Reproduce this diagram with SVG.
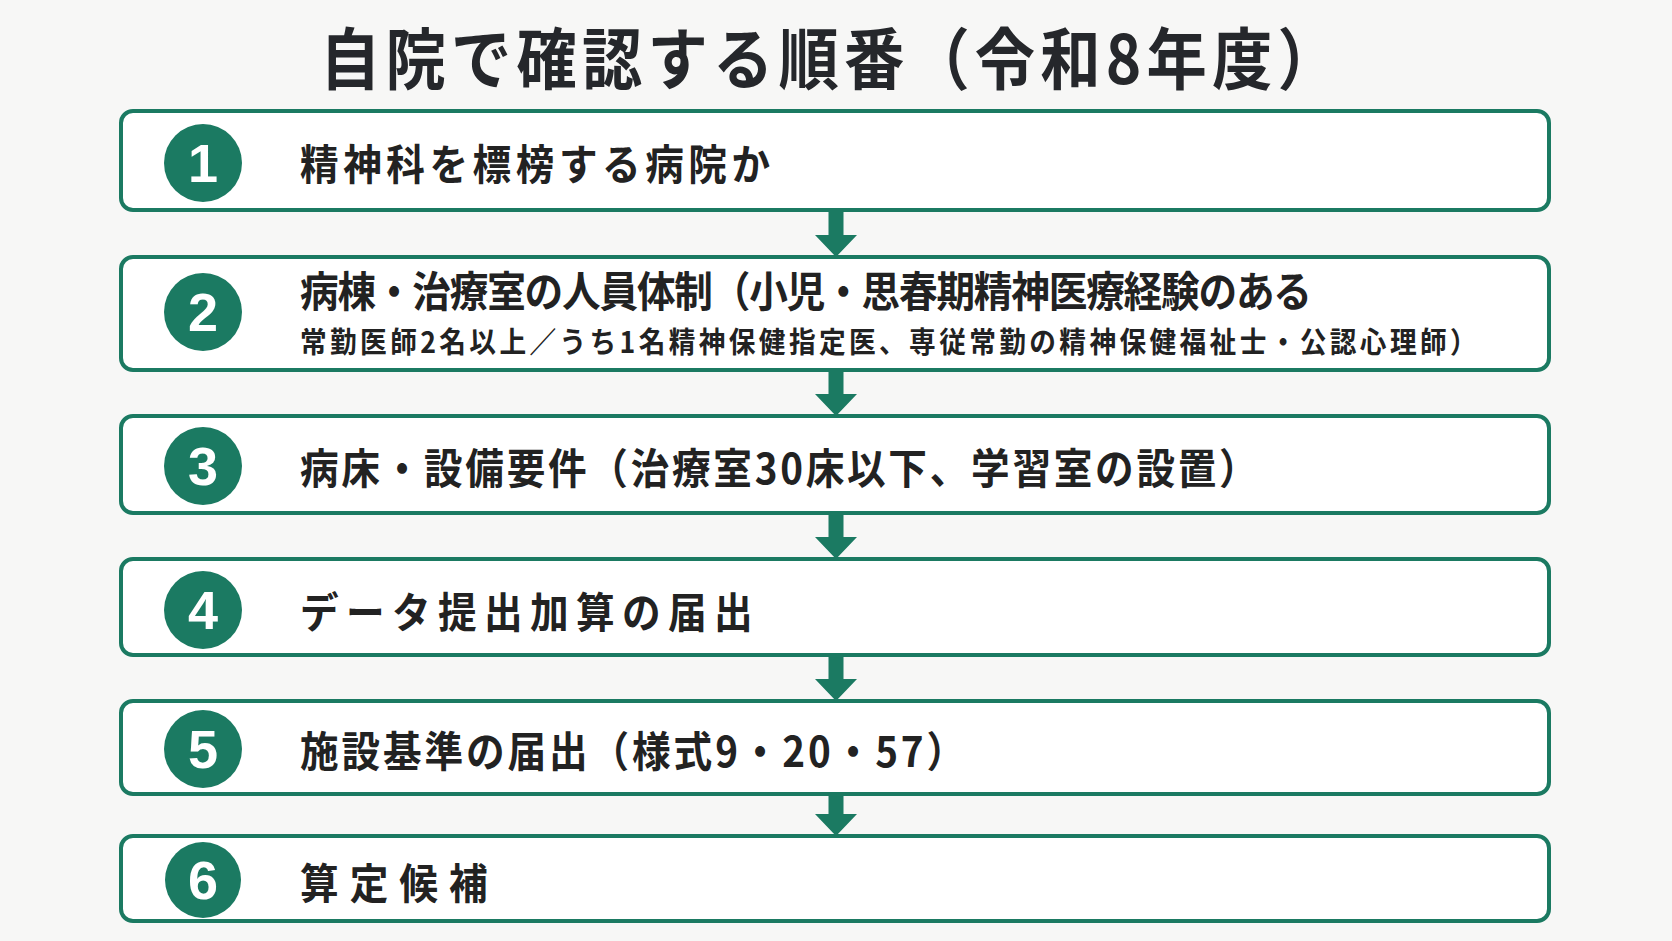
<svg xmlns="http://www.w3.org/2000/svg" width="1672" height="941" viewBox="0 0 1672 941">
<style>
.bg{fill:#f7f7f6}
.box{fill:#ffffff;stroke:#1b7a62;stroke-width:4}
.num{fill:#1b7a62}
.numt{fill:#ffffff;font-family:"Liberation Sans","DejaVu Sans",sans-serif;font-weight:700;font-size:54px;text-anchor:middle}
.t{fill:#222222;font-family:"Noto Sans CJK JP","Noto Sans",sans-serif;font-weight:700;font-size:42px}
.s{fill:#222222;font-family:"Noto Sans CJK JP","Noto Sans",sans-serif;font-weight:700;font-size:29px}
.title{fill:#25272b;font-family:"Noto Sans CJK JP","Noto Sans",sans-serif;font-weight:700;font-size:67px}
.arr{fill:#1b7a62}
</style>
<rect class="bg" x="0" y="0" width="1672" height="941"/>
<text class="title" transform="translate(320,84) scale(0.9,1)" x="0" y="0" textLength="1131" lengthAdjust="spacing">自院で確認する順番（令和8年度）</text>
<g id="connectors">
<polygon class="arr" points="828.5,210 843.5,210 843.5,235 857,235 836,257 815,235 828.5,235"/>
<polygon class="arr" points="828.5,370 843.5,370 843.5,394 857,394 836,416 815,394 828.5,394"/>
<polygon class="arr" points="828.5,513 843.5,513 843.5,537 857,537 836,559 815,537 828.5,537"/>
<polygon class="arr" points="828.5,655 843.5,655 843.5,679 857,679 836,701 815,679 828.5,679"/>
<polygon class="arr" points="828.5,794 843.5,794 843.5,814 857,814 836,836 815,814 828.5,814"/>
</g>
<g id="node1">
<rect class="box" x="121" y="111" width="1428" height="99" rx="12"/>
<circle class="num" cx="203" cy="163" r="39"/>
<text class="numt" x="203" y="182">1</text>
<text class="t" transform="translate(300,180) scale(0.92,1)" x="0" y="0" textLength="511" lengthAdjust="spacing">精神科を標榜する病院か</text>
</g>
<g id="node2">
<rect class="box" x="121" y="257" width="1428" height="113" rx="12"/>
<circle class="num" cx="203" cy="312" r="39"/>
<text class="numt" x="203" y="331">2</text>
<text class="t" transform="translate(300,307) scale(0.92,1)" x="0" y="0" font-size="36" textLength="1100" lengthAdjust="spacing">病棟・治療室の人員体制（小児・思春期精神医療経験のある</text>
<text class="s" transform="translate(300,353) scale(0.92,1)" x="0" y="0" textLength="1279" lengthAdjust="spacing">常勤医師2名以上／うち1名精神保健指定医、専従常勤の精神保健福祉士・公認心理師）</text>
</g>
<g id="node3">
<rect class="box" x="121" y="416" width="1428" height="97" rx="12"/>
<circle class="num" cx="203" cy="466" r="39"/>
<text class="numt" x="203" y="485">3</text>
<text class="t" transform="translate(300,484) scale(0.92,1)" x="0" y="0" textLength="1041" lengthAdjust="spacing">病床・設備要件（治療室30床以下、学習室の設置）</text>
</g>
<g id="node4">
<rect class="box" x="121" y="559" width="1428" height="96" rx="12"/>
<circle class="num" cx="203" cy="610" r="39"/>
<text class="numt" x="203" y="629">4</text>
<text class="t" transform="translate(300,628) scale(0.92,1)" x="0" y="0" textLength="492" lengthAdjust="spacing">データ提出加算の届出</text>
</g>
<g id="node5">
<rect class="box" x="121" y="701" width="1428" height="93" rx="12"/>
<circle class="num" cx="203" cy="749" r="39"/>
<text class="numt" x="203" y="768">5</text>
<text class="t" transform="translate(300,767) scale(0.92,1)" x="0" y="0" textLength="723" lengthAdjust="spacing">施設基準の届出（様式9・20・57）</text>
</g>
<g id="node6">
<rect class="box" x="121" y="836" width="1428" height="85" rx="12"/>
<circle class="num" cx="203" cy="880" r="38"/>
<text class="numt" x="203" y="899">6</text>
<text class="t" transform="translate(300,899) scale(0.92,1)" x="0" y="0" textLength="204" lengthAdjust="spacing">算定候補</text>
</g>
</svg>
